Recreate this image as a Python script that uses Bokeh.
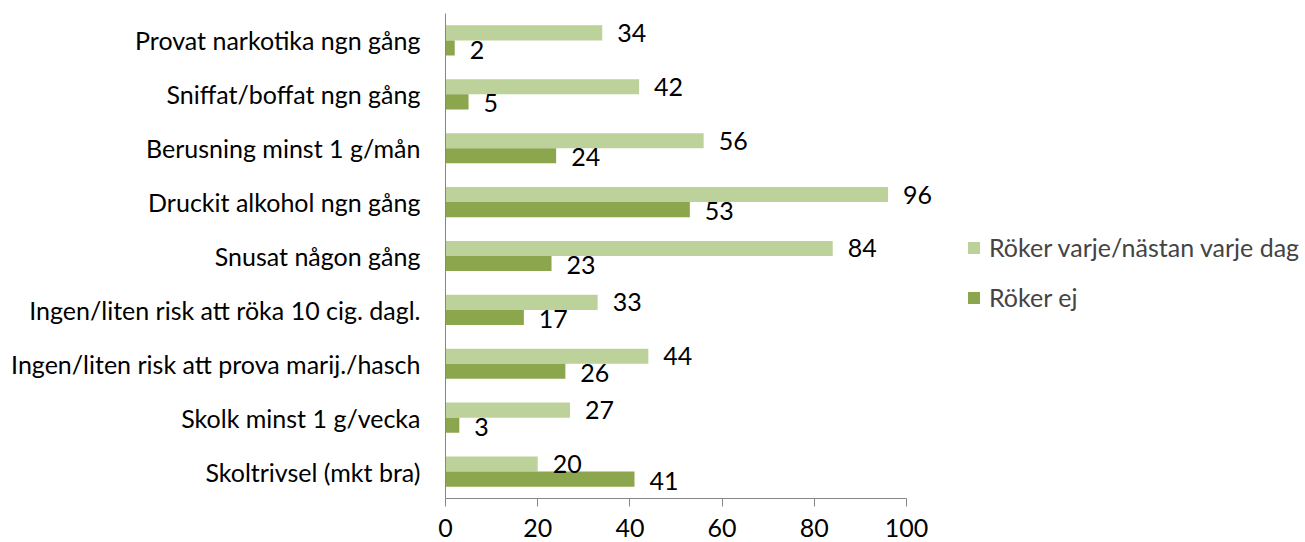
from bokeh.plotting import figure
from bokeh.models import ColumnDataSource, Legend, LegendItem, FactorRange, Range1d
from bokeh.transform import dodge
from bokeh.embed import file_html
from bokeh.resources import INLINE
from bokeh.core.properties import value

categories = [
    "Provat narkotika ngn gång",
    "Sniffat/boffat ngn gång",
    "Berusning minst 1 g/mån",
    "Druckit alkohol ngn gång",
    "Snusat någon gång",
    "Ingen/liten risk att röka 10 cig. dagl.",
    "Ingen/liten risk att prova marij./hasch",
    "Skolk minst 1 g/vecka",
    "Skoltrivsel (mkt bra)",
]
daily_smokers = [34, 42, 56, 96, 84, 33, 44, 27, 20]
non_smokers = [2, 5, 24, 53, 23, 17, 26, 3, 41]
series_names = ["Röker varje/nästan varje dag", "Röker ej"]
x_ticks = [0, 20, 40, 60, 80, 100]

LIGHT = "#BDD19A"
DARK = "#8CA64E"
FONT = "Lato"
FS = "25px"

W, H = 1305, 542
LEFT, AXIS_PX = 445, 461          # frame left edge, pixels for 0..100
x_end = 100 * (W - LEFT) / AXIS_PX  # frame extends to the right edge (legend area)

src = ColumnDataSource(dict(
    cat=categories,
    daily=daily_smokers,
    non=non_smokers,
    daily_lbl=[str(v) for v in daily_smokers],
    non_lbl=[str(v) for v in non_smokers],
))

p = figure(
    width=W, height=H,
    y_range=FactorRange(*list(reversed(categories))),
    x_range=Range1d(0, x_end),
    output_backend="svg", toolbar_location=None,
    min_border_left=LEFT, min_border_right=0,
    min_border_top=13, min_border_bottom=44,
)
p.outline_line_color = None
p.xgrid.grid_line_color = None
p.ygrid.grid_line_color = None

r1 = p.hbar(y=dodge("cat", 0.14, range=p.y_range), right="daily", left=0, height=0.28,
            source=src, fill_color=LIGHT, line_color=None)
r2 = p.hbar(y=dodge("cat", -0.14, range=p.y_range), right="non", left=0, height=0.28,
            source=src, fill_color=DARK, line_color=None)

for col, lbl, off in [("daily", "daily_lbl", 0.14), ("non", "non_lbl", -0.17)]:
    p.text(x=col, y=dodge("cat", off, range=p.y_range), text=lbl, source=src,
           x_offset=15, text_align="left", text_baseline="middle",
           text_font=value(FONT), text_font_size=FS, text_color="#000000")

p.xaxis.ticker = x_ticks
p.xaxis.bounds = (0, 100)
p.xaxis.axis_line_color = "#868686"
p.xaxis.major_tick_line_color = "#868686"
p.xaxis.major_tick_out = 8
p.xaxis.major_tick_in = 0
p.xaxis.minor_tick_line_color = None
p.xaxis.major_label_standoff = 12
p.xaxis.major_label_text_font = FONT
p.xaxis.major_label_text_font_size = FS
p.xaxis.major_label_text_color = "#000000"

p.yaxis.axis_line_color = "#868686"
p.yaxis.major_tick_line_color = None
p.yaxis.minor_tick_line_color = None
p.yaxis.major_label_standoff = 19
p.yaxis.major_label_text_font = FONT
p.yaxis.major_label_text_font_size = FS
p.yaxis.major_label_text_color = "#000000"

legend = Legend(
    items=[LegendItem(label=series_names[0], renderers=[r1]),
           LegendItem(label=series_names[1], renderers=[r2])],
    location=(521, 186),
    border_line_color=None, background_fill_alpha=0,
    glyph_width=15, glyph_height=15, label_height=30, spacing=20,
    label_text_font=FONT, label_text_font_size=FS, label_standoff=8,
    padding=0, margin=0,
)
p.add_layout(legend, "center")

open("out.html", "w").write(file_html(p, INLINE))
